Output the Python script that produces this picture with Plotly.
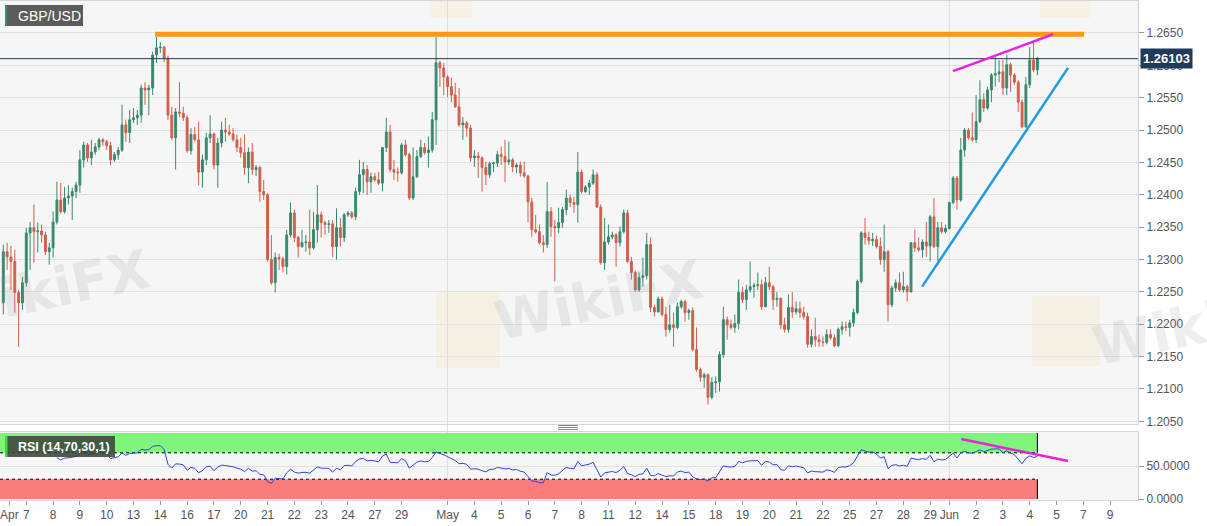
import plotly.graph_objects as go

# ---------------- data (4H GBP/USD candles, prices in pips: 1.2233 -> 12233) -------------
OPEN_PIPS = [12233,12312,12304,12297,12249,12233,12264,12341,12349,12343,12344,12338,12312,12318,12358,12392,12374,12395,12398,12405,
12415,12454,12477,12457,12466,12474,12485,12482,12476,12454,12462,12469,12508,12496,12516,12519,12523,12565,12562,12565,
12616,12627,12628,12611,12523,12488,12528,12526,12519,12468,12493,12485,12435,12454,12488,12494,12446,12480,12500,12497,
12494,12485,12473,12465,12442,12466,12439,12442,12405,12400,12300,12264,12303,12301,12289,12338,12372,12334,12320,12326,
12327,12318,12346,12369,12357,12354,12355,12320,12349,12334,12369,12372,12366,12405,12431,12439,12420,12428,12423,12418,
12473,12497,12439,12435,12434,12477,12462,12395,12428,12459,12473,12465,12469,12516,12604,12596,12582,12567,12554,12536,
12508,12511,12503,12457,12460,12457,12442,12431,12448,12449,12462,12459,12451,12454,12443,12446,12434,12429,12389,12346,
12343,12326,12323,12374,12351,12349,12357,12377,12395,12388,12385,12435,12405,12412,12418,12431,12381,12295,12327,12335,
12338,12326,12343,12372,12297,12280,12253,12272,12275,12323,12226,12219,12239,12215,12192,12199,12195,12227,12235,12218,
12221,12161,12130,12118,12122,12087,12110,12111,12153,12207,12199,12195,12201,12249,12238,12253,12258,12260,12261,12227,
12264,12258,12238,12240,12199,12192,12226,12219,12224,12218,12212,12169,12181,12176,12173,12172,12184,12179,12167,12192,
12196,12195,12202,12218,12266,12341,12334,12329,12331,12320,12300,12312,12230,12256,12264,12253,12258,12250,12326,12318,
12315,12327,12321,12366,12320,12349,12343,12348,12388,12426,12392,12469,12500,12488,12485,12513,12547,12534,12562,12585,
12587,12590,12565,12601,12585,12574,12543,12505,12570,12608,12593]
HIGH_PIPS = [12323,12326,12321,12315,12253,12273,12349,12358,12385,12357,12354,12343,12326,12374,12420,12418,12412,12415,12411,12420,
12469,12482,12480,12485,12480,12488,12488,12485,12482,12466,12474,12539,12516,12531,12534,12531,12570,12574,12570,12621,
12644,12636,12630,12615,12536,12534,12574,12536,12523,12503,12505,12513,12462,12496,12523,12496,12488,12513,12519,12508,
12503,12493,12488,12493,12473,12480,12446,12445,12423,12403,12338,12311,12309,12304,12346,12388,12377,12337,12346,12338,
12377,12374,12415,12374,12360,12361,12361,12379,12364,12372,12375,12375,12411,12454,12451,12446,12434,12434,12435,12474,
12519,12508,12454,12442,12480,12485,12465,12473,12469,12485,12480,12490,12528,12644,12607,12604,12585,12581,12573,12565,
12520,12514,12508,12469,12466,12459,12451,12451,12451,12468,12474,12485,12482,12457,12449,12451,12451,12431,12395,12369,
12354,12338,12420,12381,12361,12380,12381,12408,12400,12397,12466,12439,12415,12423,12439,12435,12385,12364,12354,12343,
12341,12351,12377,12377,12304,12283,12280,12303,12341,12334,12230,12243,12243,12227,12230,12218,12233,12238,12238,12224,
12226,12195,12133,12125,12124,12118,12119,12158,12227,12212,12207,12215,12269,12258,12261,12297,12264,12280,12269,12273,
12289,12261,12250,12241,12210,12246,12250,12235,12235,12227,12218,12192,12210,12184,12181,12192,12192,12184,12195,12204,
12204,12207,12224,12269,12344,12364,12343,12341,12337,12334,12354,12315,12260,12269,12280,12281,12261,12327,12346,12334,
12331,12358,12369,12395,12358,12358,12354,12389,12429,12429,12488,12503,12503,12527,12554,12577,12557,12567,12588,12613,
12608,12608,12616,12604,12588,12577,12547,12582,12628,12635,12613]
LOW_PIPS = [12215,12284,12253,12218,12165,12222,12258,12284,12295,12311,12326,12307,12292,12303,12354,12371,12371,12385,12361,12395,
12403,12442,12451,12446,12462,12469,12476,12469,12446,12451,12454,12466,12482,12480,12511,12508,12511,12539,12523,12554,
12604,12619,12605,12516,12485,12439,12520,12514,12465,12462,12482,12415,12411,12446,12480,12439,12411,12473,12482,12491,
12482,12466,12457,12431,12418,12431,12429,12389,12392,12297,12261,12249,12284,12280,12277,12334,12327,12303,12318,12312,
12307,12315,12326,12334,12338,12341,12304,12300,12320,12327,12366,12363,12361,12400,12403,12400,12403,12420,12415,12405,
12466,12435,12423,12420,12431,12459,12392,12392,12426,12457,12462,12442,12465,12477,12567,12554,12551,12543,12534,12505,
12485,12490,12451,12443,12426,12405,12415,12426,12435,12443,12446,12420,12446,12435,12434,12428,12426,12358,12335,12340,
12323,12311,12318,12335,12266,12341,12349,12369,12381,12372,12357,12402,12403,12400,12415,12380,12292,12284,12323,12331,
12289,12320,12340,12295,12269,12250,12250,12258,12269,12219,12212,12218,12212,12181,12187,12165,12192,12224,12204,12207,
12158,12127,12111,12102,12076,12084,12094,12096,12148,12176,12192,12187,12192,12233,12222,12249,12241,12253,12222,12226,
12253,12222,12227,12192,12187,12187,12210,12215,12210,12207,12164,12164,12165,12165,12165,12169,12176,12164,12164,12184,
12189,12181,12196,12215,12263,12323,12323,12321,12317,12292,12281,12204,12226,12250,12250,12249,12235,12249,12312,12312,
12303,12304,12297,12318,12297,12340,12340,12346,12385,12377,12389,12459,12485,12482,12480,12511,12528,12531,12543,12567,
12574,12554,12554,12559,12570,12528,12503,12503,12565,12590,12585]
CLOSE_PIPS = [12312,12304,12297,12249,12233,12264,12341,12349,12343,12344,12338,12312,12318,12358,12392,12374,12395,12398,12405,12415,
12454,12477,12457,12466,12474,12485,12482,12476,12454,12462,12469,12508,12496,12516,12519,12523,12565,12562,12565,12616,
12627,12628,12611,12523,12488,12528,12526,12519,12468,12493,12485,12435,12454,12488,12494,12446,12480,12500,12497,12494,
12485,12473,12465,12442,12466,12439,12442,12405,12400,12300,12264,12303,12301,12289,12338,12372,12334,12320,12326,12327,
12318,12346,12369,12357,12354,12355,12320,12349,12334,12369,12372,12366,12405,12431,12439,12420,12428,12423,12418,12473,
12497,12439,12435,12434,12477,12462,12395,12428,12459,12473,12465,12469,12516,12604,12596,12582,12567,12554,12536,12508,
12511,12503,12457,12460,12457,12442,12431,12448,12449,12462,12459,12451,12454,12443,12446,12434,12429,12389,12346,12343,
12326,12323,12374,12351,12349,12357,12377,12395,12388,12385,12435,12405,12412,12418,12431,12381,12295,12327,12335,12338,
12326,12343,12372,12297,12280,12253,12272,12275,12323,12226,12219,12239,12215,12192,12199,12195,12227,12235,12218,12221,
12161,12130,12118,12122,12087,12110,12111,12153,12207,12199,12195,12201,12249,12238,12253,12258,12260,12261,12227,12264,
12258,12238,12240,12199,12192,12226,12219,12224,12218,12212,12169,12181,12176,12173,12172,12184,12179,12167,12192,12196,
12195,12202,12218,12266,12341,12334,12329,12331,12320,12300,12312,12230,12256,12264,12253,12258,12250,12326,12318,12315,
12327,12321,12366,12320,12349,12343,12348,12388,12426,12392,12469,12500,12488,12485,12513,12547,12534,12562,12585,12587,
12590,12565,12601,12585,12574,12543,12505,12570,12608,12593,12610]
LAST_PRICE = 1.26103

# x-axis labels (candle index -> label)
TICK_POS = [1.6, 6, 13, 20, 27, 34, 41, 48, 55, 62, 69, 76, 83, 90, 97, 104,
            116, 123, 130, 137, 144, 151, 158, 165, 172, 179, 186, 193, 200, 207, 214, 221, 228, 235, 242,
            247, 254, 261, 268, 275, 282, 289]
TICK_TEXT = ['Apr', '7', '8', '9', '10', '13', '14', '16', '17', '20', '21', '22', '23', '24', '27', '29',
             'May', '4', '5', '6', '7', '8', '11', '12', '14', '15', '18', '19', '20', '21', '22', '25', '27', '28', '29',
             'Jun', '2', '3', '4', '5', '7', '9']
MONTH_STARTS = [116, 247]
PRICE_TICKS = [1.2050, 1.2100, 1.2150, 1.2200, 1.2250, 1.2300, 1.2350, 1.2400, 1.2450, 1.2500, 1.2550, 1.2600, 1.2650]

# drawn studies (candle index, price)
RESIST_X, RESIST_Y = [39.6, 282.2], [1.2648, 1.2648]
UPPER_X, UPPER_Y = [248.0, 274.1], [1.2591, 1.2648]
SUPPORT_X, SUPPORT_Y = [239.9, 278.0], [1.2258, 1.2596]
RSI_DIV_X, RSI_DIV_Y = [250.1, 278.0], [90.9, 57.6]

opens = [v / 10000 for v in OPEN_PIPS]
highs = [v / 10000 for v in HIGH_PIPS]
lows = [v / 10000 for v in LOW_PIPS]
closes = [v / 10000 for v in CLOSE_PIPS]
closes[-1] = LAST_PRICE
n = len(closes)
xs = list(range(n))


def wilder_rsi(vals, period=14):
    out = [None] * len(vals)
    g, l = [], []
    for i in range(1, len(vals)):
        d = vals[i] - vals[i - 1]
        g.append(max(d, 0.0))
        l.append(max(-d, 0.0))
    ag = sum(g[:period]) / period
    al = sum(l[:period]) / period
    out[period] = 100.0 if al == 0 else 100 - 100 / (1 + ag / al)
    for i in range(period + 1, len(vals)):
        ag = (ag * (period - 1) + g[i - 1]) / period
        al = (al * (period - 1) + l[i - 1]) / period
        out[i] = 100.0 if al == 0 else 100 - 100 / (1 + ag / al)
    return out


rsi = wilder_rsi(closes)

GREEN = '#37896e'
RED = '#d15f4c'
FONT = 'Liberation Sans, Arial, sans-serif'
X_RANGE = [-0.86, 296.27]
PH = 500.0   # plot height in px (paper units helper)
PW = 1138.0

fig = go.Figure()
fig.add_trace(go.Candlestick(
    x=xs, open=opens, high=highs, low=lows, close=closes,
    increasing=dict(line=dict(color=GREEN, width=1), fillcolor=GREEN),
    decreasing=dict(line=dict(color=RED, width=1), fillcolor=RED),
    whiskerwidth=0, xaxis='x', yaxis='y', hoverinfo='skip'))
fig.add_trace(go.Scatter(x=xs, y=rsi, mode='lines', line=dict(color='#2d45d8', width=1),
                         xaxis='x2', yaxis='y2', hoverinfo='skip'))

shapes = []
# faint watermark logos
for (lx0, lx1, ly0, ly1) in [(436, 500, 292, 368), (1032, 1100, 296, 366), (430, 472, -10, 18), (1040, 1090, -10, 18)]:
    shapes.append(dict(type='rect', xref='paper', yref='paper', x0=lx0 / PW, x1=lx1 / PW,
                       y0=1 - ly1 / PH, y1=1 - ly0 / PH, fillcolor='rgba(240,222,170,0.22)',
                       line=dict(width=0), layer='below'))
# month separators
for m in MONTH_STARTS:
    shapes.append(dict(type='line', xref='x', yref='paper', x0=m, x1=m, y0=0, y1=0.998,
                       line=dict(color='#dcdcdc', width=1), layer='below'))
# RSI zones
last = n - 1
shapes += [
    dict(type='rect', xref='x2', yref='y2', x0=X_RANGE[0], x1=last, y0=70, y1=100,
         fillcolor='#7ff57c', line=dict(width=0), layer='below'),
    dict(type='rect', xref='x2', yref='y2', x0=X_RANGE[0], x1=last, y0=0, y1=30,
         fillcolor='#f87c7a', line=dict(width=0), layer='below'),
    dict(type='line', xref='x2', yref='y2', x0=X_RANGE[0], x1=last, y0=70, y1=70,
         line=dict(color='black', width=1, dash='dot'), layer='below'),
    dict(type='line', xref='x2', yref='y2', x0=X_RANGE[0], x1=last, y0=30, y1=30,
         line=dict(color='black', width=1, dash='dot'), layer='below'),
    dict(type='line', xref='x2', yref='y2', x0=last, x1=last, y0=70, y1=100,
         line=dict(color='black', width=1), layer='below'),
    dict(type='line', xref='x2', yref='y2', x0=last, x1=last, y0=0, y1=30,
         line=dict(color='black', width=1), layer='below'),
]
# last price line
shapes.append(dict(type='line', xref='paper', yref='y', x0=0, x1=1, y0=LAST_PRICE, y1=LAST_PRICE,
                   line=dict(color='#1e3a5c', width=1)))
# drawn lines
shapes.append(dict(type='line', xref='x', yref='y', x0=RESIST_X[0], x1=RESIST_X[1], y0=RESIST_Y[0], y1=RESIST_Y[1],
                   line=dict(color='#ff9a0a', width=5)))
shapes.append(dict(type='line', xref='x', yref='y', x0=UPPER_X[0], x1=UPPER_X[1], y0=UPPER_Y[0], y1=UPPER_Y[1],
                   line=dict(color='#ea1fe0', width=2.5)))
shapes.append(dict(type='line', xref='x', yref='y', x0=SUPPORT_X[0], x1=SUPPORT_X[1], y0=SUPPORT_Y[0], y1=SUPPORT_Y[1],
                   line=dict(color='#1e9be8', width=2.5)))
shapes.append(dict(type='line', xref='x2', yref='y2', x0=RSI_DIV_X[0], x1=RSI_DIV_X[1], y0=RSI_DIV_Y[0], y1=RSI_DIV_Y[1],
                   line=dict(color='#ea1fe0', width=2.5)))
# label boxes
shapes += [
    dict(type='rect', xref='paper', yref='paper', x0=5 / PW, x1=83 / PW, y0=1 - 26 / PH, y1=1 - 5 / PH,
         fillcolor='#5c5c5c', line=dict(width=0)),
    dict(type='rect', xref='paper', yref='paper', x0=5 / PW, x1=7 / PW, y0=1 - 26 / PH, y1=1 - 5 / PH,
         fillcolor='#3a8f7c', line=dict(width=0)),
    dict(type='rect', xref='paper', yref='paper', x0=5 / PW, x1=115 / PW, y0=1 - 457 / PH, y1=1 - 436 / PH,
         fillcolor='rgba(60,70,58,0.88)', line=dict(width=0)),
    dict(type='rect', xref='paper', yref='paper', x0=5 / PW, x1=7.5 / PW, y0=1 - 457 / PH, y1=1 - 436 / PH,
         fillcolor='#3fd83f', line=dict(width=0)),
]
# pane separator handle
for yy in (425.5, 427.5, 429.5):
    shapes.append(dict(type='line', xref='paper', yref='paper', x0=558 / PW, x1=578 / PW,
                       y0=1 - yy / PH, y1=1 - yy / PH, line=dict(color='#888888', width=1)))

WM = dict(family='DejaVu Sans, sans-serif', size=54, color='rgba(150,140,140,0.15)')
annotations = [
    dict(xref='paper', yref='paper', x=45 / PW, y=1 - 290 / PH, text='<b>WikiFX</b>', showarrow=False,
         textangle=-12, font=WM, xanchor='center', yanchor='middle'),
    dict(xref='paper', yref='paper', x=598 / PW, y=1 - 300 / PH, text='<b>WikiFX</b>', showarrow=False,
         textangle=-12, font=WM, xanchor='center', yanchor='middle'),
    dict(xref='paper', yref='paper', x=1196 / PW, y=1 - 325 / PH, text='<b>WikiFX</b>', showarrow=False,
         textangle=-12, font=WM, xanchor='center', yanchor='middle'),
    dict(xref='paper', yref='paper', x=16 / PW, y=1 - 15.5 / PH, xanchor='left', yanchor='middle',
         text='GBP/USD', showarrow=False, font=dict(family=FONT, size=14, color='white')),
    dict(xref='paper', yref='paper', x=16 / PW, y=1 - 446.5 / PH, xanchor='left', yanchor='middle',
         text='<b>RSI (14,70,30,1)</b>', showarrow=False, font=dict(family=FONT, size=12.5, color='white')),
    dict(xref='paper', yref='y', x=1, y=LAST_PRICE, xanchor='left', yanchor='middle', xshift=2,
         text='<b>1.26103</b>', showarrow=False, bgcolor='#1f3b5c', borderpad=2,
         font=dict(family=FONT, size=13, color='white')),
]

axis_font = dict(family=FONT, size=12, color='#555555')
fig.update_layout(
    width=1207, height=526,
    margin=dict(l=0, r=69, t=0, b=26),
    paper_bgcolor='white', plot_bgcolor='#f6f6f6',
    showlegend=False, hovermode=False,
    xaxis=dict(domain=[0, 1], range=X_RANGE, anchor='y', showticklabels=False, showgrid=False,
               zeroline=False, rangeslider=dict(visible=False), showline=True, linecolor='#d6d6d6',
               mirror=True, ticks=''),
    yaxis=dict(domain=[0.153, 0.998], range=[1.20466, 1.26994], side='right', anchor='x',
               tickvals=PRICE_TICKS, tickformat='.4f', ticks='outside', ticklen=5, tickcolor='#9a9a9a',
               tickfont=axis_font, showgrid=True, gridcolor='#e1e1e1', gridwidth=1, zeroline=False,
               showline=True, linecolor='#cfcfcf', mirror=True),
    xaxis2=dict(domain=[0, 1], range=X_RANGE, anchor='y2', tickvals=TICK_POS, ticktext=TICK_TEXT,
                ticks='outside', ticklen=4, tickcolor='#9a9a9a', tickfont=axis_font, showgrid=False,
                zeroline=False, showline=True, linecolor='#d6d6d6', mirror=True,
                ticklabeloverflow='allow'),
    yaxis2=dict(domain=[0, 0.136], range=[-1.5, 101.5], side='right', anchor='x2',
                tickvals=[0, 50], ticktext=['0.0000', '50.0000'], ticks='outside', ticklen=5,
                tickcolor='#9a9a9a', tickfont=axis_font, showgrid=True, gridcolor='#e1e1e1',
                zeroline=False, showline=True, linecolor='#cfcfcf', mirror=True),
    shapes=shapes, annotations=annotations,
)

fig.write_html('out.html', config={'displayModeBar': False},
               post_script="document.body.style.margin='0px';document.body.style.overflow='hidden';")
